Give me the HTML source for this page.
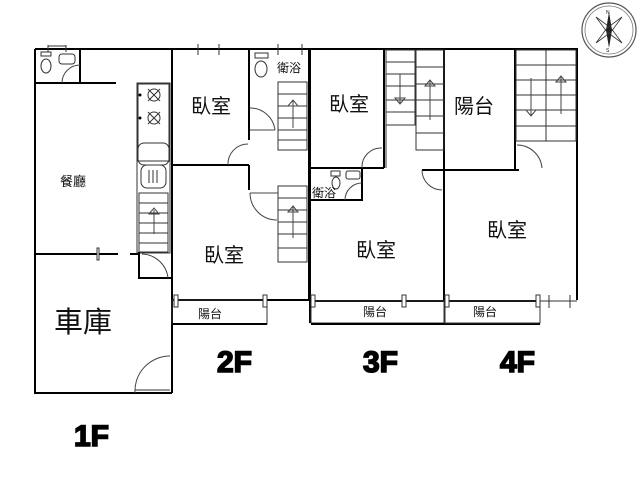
<!DOCTYPE html>
<html><head><meta charset="utf-8"><style>
html,body{margin:0;padding:0;background:#fff;width:640px;height:480px;overflow:hidden}
svg{display:block}
.w{stroke:#000;stroke-width:2;fill:none}
.t{stroke:#333;stroke-width:1;fill:none}
.a{stroke:#444;stroke-width:1;fill:none}
text{font-family:"Liberation Sans","Noto Sans CJK TC",sans-serif;fill:#111}
.b{font-weight:900;font-size:30px;fill:#000;stroke:#000;stroke-width:1.6}
</style></head><body>
<svg width="640" height="480" viewBox="0 0 640 480">
<!-- 1F -->
<path class="w" d="M35 49 H172 V393 M35 49 V393 H135 M135 393 H172"/>
<path class="t" d="M48 45 V52 M66 45 V52 M48 46 H66"/>
<path class="w" d="M35 83 H116 M80 49 V83"/>
<path class="a" d="M62 83 A18 18 0 0 1 80 65"/>
<ellipse cx="46" cy="66" rx="5" ry="7" class="t"/><rect x="41" y="52" width="10" height="4" class="t"/>
<rect x="59" y="54" width="16" height="10" rx="3" class="t"/>
<path class="w" d="M35 254 H118 M130 254 H138"/>
<rect x="97" y="248" width="2" height="12" fill="#fff" stroke="#333"/>
<rect x="137" y="83" width="33" height="170" class="t"/>
<rect x="138" y="84" width="31" height="77" class="t"/>
<g class="t"><path d="M148 89 L160 101 M160 89 L148 101 M148 112 L160 124 M160 112 L148 124"/><circle cx="154" cy="95" r="6"/><circle cx="154" cy="118" r="6"/></g>
<circle cx="140" cy="95" r="1.5"/><circle cx="140" cy="118" r="1.5"/>
<rect x="138" y="143" width="31" height="22" rx="6" class="t"/>
<rect x="141" y="165" width="25" height="23" rx="6" class="t"/>
<path class="t" d="M149 170 V183 M153 170 V183 M157 170 V183"/>
<rect x="139" y="193" width="29" height="59" class="t"/>
<path class="t" d="M139 203 H168 M139 213 H168 M139 223 H168 M139 233 H168 M139 243 H168"/>
<path class="a" d="M154 234 V210 M149 214 L154 208 L159 214 Z"/>
<path class="w" d="M139 252 V278 H172"/>
<path class="a" d="M142 254 A27 27 0 0 1 168 278"/>
<path class="a" d="M135 393 A35 35 0 0 1 170 356"/>
<path class="t" d="M135 390 H170"/>
<text x="60" y="186" font-size="13">餐廳</text>
<text x="54" y="332" font-size="29">車庫</text>
<text x="74" y="446" class="b">1F</text>

<!-- 2F -->
<path class="w" d="M172 49 H309 V300 M172 300 H309"/>
<path class="t" d="M198 44 V55 M219 44 V55 M278 44 V55 M302 44 V55"/>
<path class="w" d="M249 49 V140 M249 165 V190"/>
<path class="w" d="M172 165 H249"/>
<path class="a" d="M228 165 A20 20 0 0 1 248 144"/>
<path class="a" d="M250 108 A25 25 0 0 1 275 130 M250 130 H275"/>
<path class="a" d="M250 193 A27 27 0 0 0 277 220 M250 193 H278"/>
<rect x="278" y="82" width="29" height="68" class="t"/>
<path class="t" d="M278 94 H307 M278 106 H307 M278 118 H307 M278 130 H307 M278 140 H307"/>
<path class="a" d="M293 128 V100 M288 106 L293 100 L298 106 Z"/>
<rect x="278" y="186" width="29" height="76" class="t"/>
<path class="t" d="M278 198 H307 M278 210 H307 M278 222 H307 M278 234 H307 M278 248 H307"/>
<path class="a" d="M293 238 V206 M288 212 L293 206 L298 212 Z"/>
<rect x="255" y="53" width="13" height="5" class="t"/><ellipse cx="261" cy="69" rx="6" ry="8" class="t"/>
<rect x="172" y="300" width="95" height="24" class="t"/>
<path class="w" d="M172 324 H267"/>
<rect x="174" y="295" width="4" height="12" fill="#fff" stroke="#333"/>
<rect x="263" y="295" width="4" height="12" fill="#fff" stroke="#333"/>
<text x="277" y="72" font-size="12">衛浴</text>
<text x="191" y="113" font-size="20">臥室</text>
<text x="204" y="262" font-size="20">臥室</text>
<text x="198" y="318" font-size="12">陽台</text>
<text x="217" y="372" class="b">2F</text>

<!-- 3F -->
<path class="w" d="M310 49 H577 V300 M310 49 V323 M310 301 H540"/>
<path class="w" d="M310 168 H384 M384 49 V168 M422 170 H444 M444 49 V301"/>
<path class="w" d="M362 168 V200 H310"/>
<path class="a" d="M362 168 A19 19 0 0 1 382 148"/>
<path class="a" d="M345 200 A17 17 0 0 1 362 183"/>
<path class="a" d="M422 170 A20 20 0 0 0 442 190"/>
<rect x="386" y="50" width="29" height="75" class="t"/>
<path class="t" d="M386 62 H415 M386 74 H415 M386 86 H415 M386 100 H415 M386 112 H415"/>
<path class="a" d="M400 74 V104 M395 98 L400 104 L405 98 Z"/>
<rect x="416" y="50" width="28" height="100" class="t"/>
<path class="t" d="M416 67 H444 M416 84 H444 M416 100 H444 M416 116 H444 M416 133 H444"/>
<path class="a" d="M430 120 V80 M425 86 L430 80 L435 86 Z"/>
<path class="t" d="M386 125 V168"/>
<rect x="331" y="171" width="9" height="5" class="t"/><ellipse cx="336" cy="183" rx="4" ry="6" class="t"/>
<rect x="346" y="171" width="14" height="8" rx="2" class="t"/>
<text x="312" y="197" font-size="12">衛浴</text>
<text x="329" y="111" font-size="20">臥室</text>
<text x="356" y="257" font-size="20">臥室</text>
<rect x="311" y="301" width="133" height="22" class="t"/>
<path class="w" d="M311 324 H540"/>
<rect x="311" y="295" width="4" height="12" fill="#fff" stroke="#333"/>
<rect x="402" y="295" width="4" height="12" fill="#fff" stroke="#333"/>
<text x="363" y="316" font-size="12">陽台</text>
<text x="363" y="372" class="b">3F</text>

<!-- 4F -->
<path class="w" d="M444 170 H519 M515 49 V170"/>
<path class="a" d="M517 145 A25 25 0 0 1 542 168"/>
<rect x="516" y="50" width="60" height="91" class="t"/>
<path class="t" d="M546 50 V141 M516 65 H576 M516 80 H576 M516 95 H576 M516 110 H576 M516 126 H576"/>
<path class="a" d="M531 78 V116 M526 110 L531 116 L536 110 Z"/>
<path class="a" d="M561 114 V76 M556 82 L561 76 L566 82 Z"/>
<text x="454" y="113" font-size="20">陽台</text>
<text x="487" y="237" font-size="20">臥室</text>
<rect x="445" y="301" width="95" height="22" class="t"/>
<rect x="445" y="295" width="4" height="12" fill="#fff" stroke="#333"/>
<rect x="536" y="295" width="4" height="12" fill="#fff" stroke="#333"/>
<path class="t" d="M540 301 H577 M549 295 V308 M570 295 V308"/>
<text x="473" y="316" font-size="12">陽台</text>
<text x="500" y="372" class="b">4F</text>

<!-- compass -->
<circle cx="609" cy="30" r="27" fill="none" stroke="#555" stroke-width="1.2"/>
<circle cx="609" cy="30" r="24" fill="none" stroke="#777" stroke-width="0.8"/>
<path d="M609 12 L612 30 L609 48 L606 30 Z" fill="#222"/>
<path d="M596 17 L611 28 L622 43 L607 32 Z M622 17 L611 32 L596 43 L607 28 Z" fill="none" stroke="#333" stroke-width="0.8"/>
<text x="606" y="14" font-size="5">N</text><text x="606" y="52" font-size="5">S</text>
</svg>
</body></html>
